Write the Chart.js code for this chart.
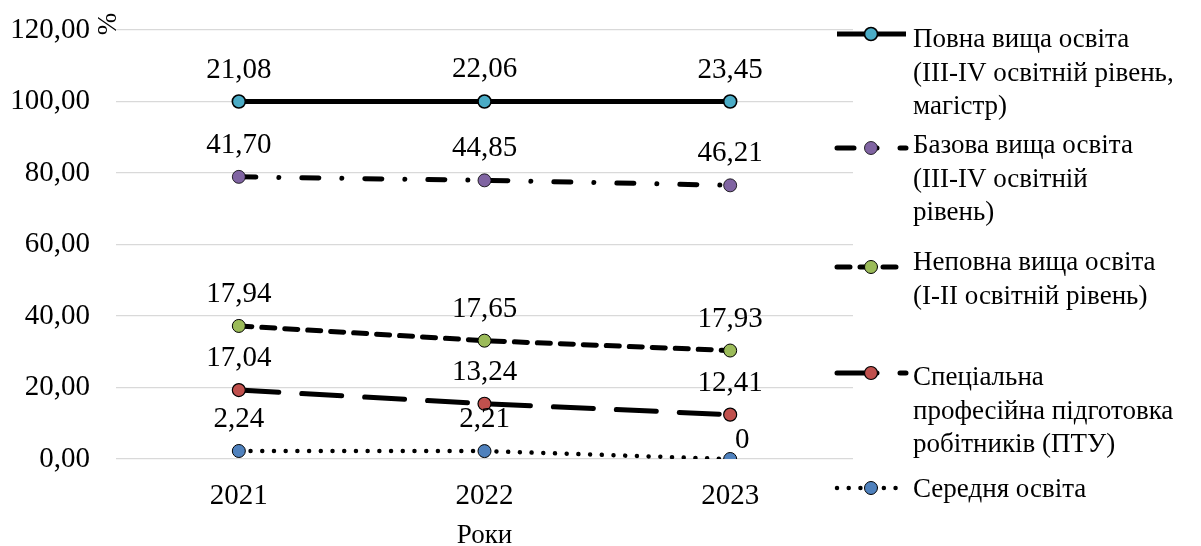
<!DOCTYPE html>
<html>
<head>
<meta charset="utf-8">
<script src="https://cdn.jsdelivr.net/npm/chart.js@4/dist/chart.umd.min.js"></script>
<style>
  html, body { margin: 0; padding: 0; background: #ffffff; }
  canvas { display: block; }
</style>
</head>
<body>
<canvas id="chart" width="1201" height="546"></canvas>
<script>
// Years on the horizontal axis
const years = ['2021', '2022', '2023'];

// Share of each education level, % (plotted cumulatively, labelled individually)
const secondaryEdu   = [2.24, 2.21, 0];        // Середня освіта
const vocationalEdu  = [17.04, 13.24, 12.41];  // Спеціальна професійна підготовка
const incompleteHigh = [17.94, 17.65, 17.93];  // Неповна вища освіта
const basicHigh      = [41.70, 44.85, 46.21];  // Базова вища освіта
const completeHigh   = [21.08, 22.06, 23.45];  // Повна вища освіта

// Value-axis ticks
const yTicks = [0, 20, 40, 60, 80, 100, 120];

// Legend texts, one entry per line
const nameSecondary  = ['Середня освіта'];
const nameVocational = ['Спеціальна', 'професійна підготовка', 'робітників (ПТУ)'];
const nameIncomplete = ['Неповна вища освіта', '(I-II освітній рівень)'];
const nameBasic      = ['Базова вища освіта', '(III-IV освітній', 'рівень)'];
const nameComplete   = ['Повна вища освіта', '(III-IV освітній рівень,', 'магістр)'];

const FONT_FAMILY = '"Liberation Serif", "Times New Roman", serif';
const NUM_SIZE = 29;
const TEXT_SIZE = 27;

function fmtNum(v) {
  return v === 0 ? '0' : v.toFixed(2).replace('.', ',');
}

// Value labels above each marker
const valueLabels = {
  id: 'valueLabels',
  afterDatasetsDraw(chart) {
    const ctx = chart.ctx;
    ctx.save();
    ctx.font = NUM_SIZE + 'px ' + FONT_FAMILY;
    ctx.fillStyle = '#000';
    ctx.textAlign = 'center';
    ctx.textBaseline = 'alphabetic';
    chart.data.datasets.forEach((ds, di) => {
      const meta = chart.getDatasetMeta(di);
      meta.data.forEach((pt, i) => {
        const v = ds.data[i];
        let x = pt.x, y = pt.y - 24;
        if (v === 0) { x += 12; y = pt.y - 11; }
        ctx.fillText(fmtNum(v), x, y);
      });
    });
    ctx.restore();
  }
};

// Rotated unit sign next to the top tick and the multi-line legend on the right
const extras = {
  id: 'extras',
  afterDraw(chart) {
    const ctx = chart.ctx;
    ctx.save();
    ctx.font = TEXT_SIZE + 'px ' + FONT_FAMILY;
    ctx.fillStyle = '#000';
    ctx.translate(109, 24);
    ctx.rotate(-Math.PI / 2);
    ctx.textAlign = 'center';
    ctx.textBaseline = 'middle';
    ctx.fillText('%', 0, 0);
    ctx.restore();

    const order = [4, 3, 2, 1, 0];
    const sampleY = [34, 148, 267, 373, 488];
    const firstBaseline = [47, 153, 270, 385, 497];
    const lineGap = 33.5;
    order.forEach((di, k) => {
      const ds = chart.data.datasets[di];
      const y = sampleY[k];
      ctx.save();
      ctx.strokeStyle = ds.borderColor;
      ctx.lineWidth = ds.borderWidth;
      ctx.lineCap = ds.borderCapStyle || 'butt';
      ctx.setLineDash(ds.borderDash || []);
      ctx.beginPath();
      ctx.moveTo(837, y);
      ctx.lineTo(906, y);
      ctx.stroke();
      ctx.setLineDash([]);
      ctx.beginPath();
      ctx.arc(871, y, ds.pointRadius, 0, Math.PI * 2);
      ctx.fillStyle = ds.pointBackgroundColor;
      ctx.fill();
      ctx.lineWidth = ds.pointBorderWidth;
      ctx.strokeStyle = ds.pointBorderColor;
      ctx.stroke();
      ctx.restore();

      ctx.save();
      ctx.font = TEXT_SIZE + 'px ' + FONT_FAMILY;
      ctx.fillStyle = '#000';
      ctx.textAlign = 'left';
      ctx.textBaseline = 'alphabetic';
      ds.legendLines.forEach((line, j) => {
        ctx.fillText(line, 913, firstBaseline[k] + j * lineGap);
      });
      ctx.restore();
    });
  }
};

const common = { fill: false, tension: 0, pointBorderColor: '#000', pointRadius: 6.5, pointHoverRadius: 6.5, borderColor: '#000' };

new Chart(document.getElementById('chart'), {
  type: 'line',
  data: {
    labels: years,
    datasets: [
      Object.assign({}, common, {
        label: nameSecondary.join(' '), legendLines: nameSecondary, data: secondaryEdu,
        borderWidth: 4.5, borderDash: [0.01, 11.7], borderCapStyle: 'round',
        pointBackgroundColor: '#4F81BD', pointBorderWidth: 1
      }),
      Object.assign({}, common, {
        label: nameVocational.join(' '), legendLines: nameVocational, data: vocationalEdu,
        borderWidth: 5, borderDash: [40, 23], borderCapStyle: 'round',
        pointBackgroundColor: '#C0504D', pointBorderWidth: 1.2
      }),
      Object.assign({}, common, {
        label: nameIncomplete.join(' '), legendLines: nameIncomplete, data: incompleteHigh,
        borderWidth: 5, borderDash: [13, 10], borderCapStyle: 'round',
        pointBackgroundColor: '#9BBB59', pointBorderWidth: 1
      }),
      Object.assign({}, common, {
        label: nameBasic.join(' '), legendLines: nameBasic, data: basicHigh,
        borderWidth: 5, borderDash: [17, 23, 0.01, 23], borderCapStyle: 'round',
        pointBackgroundColor: '#8064A2', pointBorderWidth: 0.8
      }),
      Object.assign({}, common, {
        label: nameComplete.join(' '), legendLines: nameComplete, data: completeHigh,
        borderWidth: 5, borderDash: [], borderCapStyle: 'butt',
        pointBackgroundColor: '#4BACC6', pointBorderWidth: 1.6
      })
    ]
  },
  options: {
    responsive: false,
    animation: false,
    devicePixelRatio: 1,
    layout: { padding: { left: 0, top: 30, right: 348, bottom: 0 } },
    plugins: { legend: { display: false }, tooltip: { enabled: false } },
    scales: {
      x: {
        offset: true,
        grid: { display: false, drawTicks: false },
        border: { display: false },
        ticks: { color: '#000', padding: 20, font: { family: FONT_FAMILY, size: NUM_SIZE } },
        title: { display: true, text: 'Роки', color: '#000', padding: { top: 0, bottom: -3 },
                 font: { family: FONT_FAMILY, size: TEXT_SIZE, lineHeight: 1 } },
        afterFit(scale) { scale.height = 87; }
      },
      y: {
        stacked: true,
        min: 0, max: 120,
        afterBuildTicks(scale) { scale.ticks = yTicks.map(v => ({ value: v })); },
        ticks: { color: '#000', padding: 26, font: { family: FONT_FAMILY, size: NUM_SIZE },
                 callback: v => v.toFixed(2).replace('.', ',') },
        grid: { color: '#d9d9d9', lineWidth: 1.3, drawTicks: false },
        border: { display: false },
        afterFit(scale) {
          scale.width = 116;
          scale.paddingTop = 12;
          scale.paddingBottom = 12;
        }
      }
    }
  },
  plugins: [valueLabels, extras]
});
</script>
</body>
</html>
